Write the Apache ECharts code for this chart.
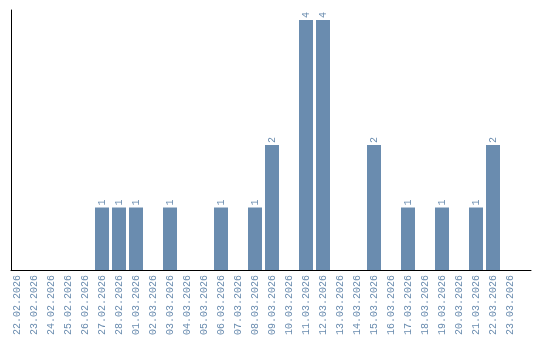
<!DOCTYPE html>
<html>
<head>
<meta charset="utf-8">
<script src="https://cdn.jsdelivr.net/npm/echarts@6/dist/echarts.min.js"></script>
<style>html,body{margin:0;padding:0;background:#fff}#c{width:540px;height:340px}</style>
</head>
<body>
<div id="c"></div>
<script>
var categories = ["22.02.2026","23.02.2026","24.02.2026","25.02.2026","26.02.2026","27.02.2026","28.02.2026","01.03.2026","02.03.2026","03.03.2026","04.03.2026","05.03.2026","06.03.2026","07.03.2026","08.03.2026","09.03.2026","10.03.2026","11.03.2026","12.03.2026","13.03.2026","14.03.2026","15.03.2026","16.03.2026","17.03.2026","18.03.2026","19.03.2026","20.03.2026","21.03.2026","22.03.2026","23.03.2026"];
var counts = [0,0,0,0,0,1,1,1,0,1,0,0,1,0,1,2,0,4,4,0,0,2,0,1,0,1,0,1,2,0];

var color = '#6a8caf';
var font = 'Liberation Mono';
var idx = categories.map(function(_, i){ return i; });
var data = counts.map(function(v, i){ return [i, v]; }).filter(function(d){ return d[1] > 0; });

var chart = echarts.init(document.getElementById('c'), null, {renderer:'canvas'});
chart.setOption({
  animation: false,
  grid: {left: 11, right: 9, top: 10, bottom: 70, containLabel: false},
  xAxis: {
    type: 'value',
    min: -6/17,
    max: 514/17,
    axisLine: {show: true, onZero: false, lineStyle: {color: '#000', width: 1}},
    axisTick: {show: false},
    splitLine: {show: false},
    axisLabel: {
      customValues: idx,
      rotate: 90,
      margin: 5,
      color: color,
      fontFamily: font,
      fontSize: 10,
      formatter: function(v){ return categories[Math.round(v)] || ''; }
    }
  },
  yAxis: {
    type: 'value',
    min: 0,
    max: 4.16,
    axisLine: {show: true, onZero: false, lineStyle: {color: '#000', width: 1}},
    axisTick: {show: false},
    axisLabel: {show: false},
    splitLine: {show: false}
  },
  series: [{
    type: 'bar',
    data: data,
    barWidth: 14,
    itemStyle: {color: color},
    label: {
      show: true,
      position: 'top',
      rotate: 90,
      align: 'left',
      verticalAlign: 'middle',
      distance: 2,
      color: color,
      fontFamily: font,
      fontSize: 10,
      formatter: function(p){ return String(p.value[1]); }
    }
  }]
});
</script>
</body>
</html>
